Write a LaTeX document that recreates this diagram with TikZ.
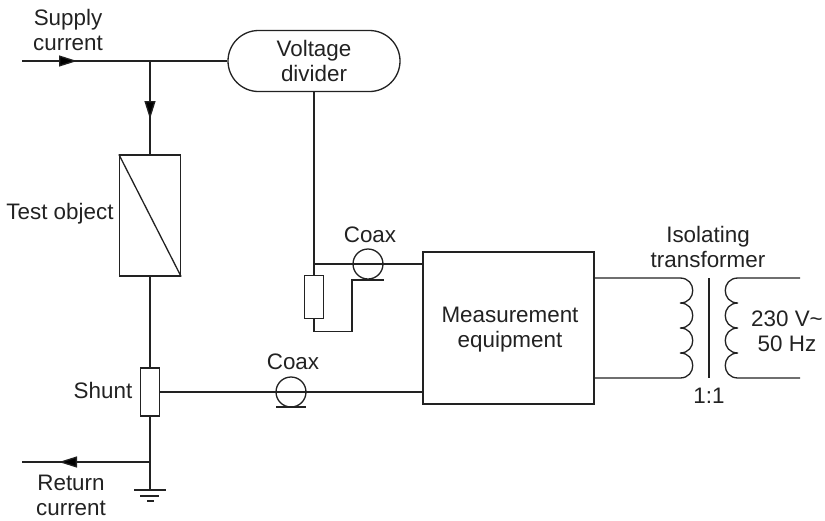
\documentclass[tikz,border=0pt]{standalone}
\usepackage{fontspec}
\setmainfont{Liberation Sans}
\usetikzlibrary{arrows.meta,shapes.misc}
\definecolor{ink}{HTML}{222222}
\tikzset{
  wire/.style={draw=ink,line width=1.3pt},
  box/.style={draw=ink,line width=1.3pt,rectangle,inner sep=0pt,fill=white},
  label/.style={text=ink,align=center,inner sep=0pt,font=\fontsize{22.4}{25}\selectfont},
  flow/.style={wire,-{Triangle[length=18pt,width=11pt,fill=black]}},
  winding/.style={draw=ink,line width=1.3pt},
  coaxring/.style={circle,draw=ink,line width=1.3pt,minimum size=30pt,inner sep=0pt}
}
\begin{document}
\begin{tikzpicture}[x=1pt,y=-1pt]
\useasboundingbox (0,0) rectangle (825,520);
% nodes
\node[box,rounded rectangle,minimum width=172pt,minimum height=61pt] (divider) at (314,61) {};
\node[label] (dividerText) at (314,60.5) {Voltage\\divider};
\node[box,minimum width=61pt,minimum height=121pt] (object) at (150,215.5) {};
\node[box,minimum width=19pt,minimum height=48pt] (shunt) at (150,392) {};
\node[box,minimum width=19pt,minimum height=43pt] (rdiv) at (314,297) {};
\node[box,minimum width=171pt,minimum height=152pt] (meas) at (508.5,328) {};
\node[label] (measText) at (510,329.5) {Measurement\\equipment};
% coordinates
\coordinate (supplyIn) at (22,61);
\coordinate (supplyTip) at (77,61);
\coordinate (branch) at (150,61);
\coordinate (branchTip) at (150,119);
\coordinate (returnOut) at (22,462);
\coordinate (returnTip) at (59,462);
\coordinate (returnJ) at (150,462);
\coordinate (gnd) at (150,490);
\coordinate (tapJ) at (314,264);
\coordinate (coaxA) at (368,264);
\coordinate (coaxB) at (291,392);
\coordinate (measA) at (423,264);
\coordinate (measB) at (423,392);
\coordinate (priTop) at (594,278);
\coordinate (priBot) at (594,378);
\coordinate (pA) at (680,278);
\coordinate (secA) at (738,278);
\coordinate (secOutTop) at (800,278);
\coordinate (secOutBot) at (800,378);
% connectors
\draw[wire] (supplyIn) -- (divider.west);
\draw[flow] (supplyIn) -- (supplyTip);
\draw[wire] (branch) -- (object.north);
\draw[flow] (branch) -- (branchTip);
\draw[wire] (object.south) -- (shunt.north);
\draw[wire] (shunt.south) -- (gnd);
\draw[wire] (returnJ) -- (returnOut);
\draw[flow] (returnJ) -- (returnTip);
\draw[wire] (divider.south) -- (rdiv.north);
\draw[wire] (tapJ) -- (measA);
\draw[wire] (shunt.east |- coaxB) -- (measB);
% coax
\node[coaxring] (ringA) at (coaxA) {};
\node[coaxring] (ringB) at (coaxB) {};
\draw[wire] (rdiv.south) -- ++(0,12) -| (352,280) -- (384,280);
\draw[wire] (276,407) -- (306,407);
% ground
\draw[wire] (134,490) -- (166,490);
\draw[wire] (140,496) -- (159,496);
\draw[wire] (147,501) -- (154,501);
% diagonal
\draw[wire] (object.north west) -- (object.south east);
% transformer
\draw[winding] (priTop) -- (pA)
  .. controls (697,278) and (697,303) .. (680,303)
  .. controls (697,303) and (697,328) .. (680,328)
  .. controls (697,328) and (697,353) .. (680,353)
  .. controls (697,353) and (697,378) .. (680,378) -- (priBot);
\draw[winding] (secOutTop) -- (secA)
  .. controls (721,278) and (721,303) .. (738,303)
  .. controls (721,303) and (721,328) .. (738,328)
  .. controls (721,328) and (721,353) .. (738,353)
  .. controls (721,353) and (721,378) .. (738,378) -- (secOutBot);
\draw[wire] (709,278) -- (709,378);
% labels
\node[label] (supplyText) at (68,29.5) {Supply\\current};
\node[label] (objectText) at (60,214) {Test object};
\node[label] (coaxAText) at (370,235) {Coax};
\node[label] (coaxBText) at (293,362) {Coax};
\node[label] (shuntText) at (103,390) {Shunt};
\node[label] (returnText) at (71,495.5) {Return\\current};
\node[label] (isoText) at (708,247) {Isolating\\transformer};
\node[label] (mainsText) at (787,331.5) {230 V\char"007E\\50 Hz};
\node[label] (ratioText) at (709,396) {1:1};
\end{tikzpicture}
\end{document}
